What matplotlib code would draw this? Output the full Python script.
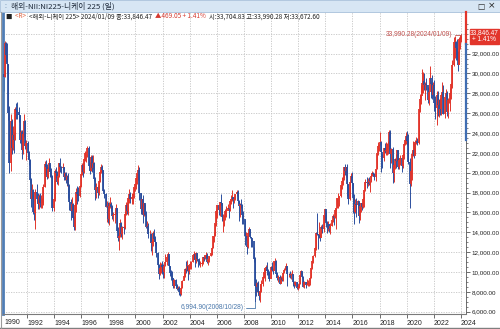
import numpy as np
import pandas as pd
import matplotlib
matplotlib.use("Agg")
import matplotlib.pyplot as plt
from matplotlib.patches import Rectangle
from matplotlib.lines import Line2D

# ---------------- data (monthly OHLC, in units of 100 yen) ----------------
start_month = "1990-04"
first_open = 299.8
close_h = [
    296, 331, 319, 310, 260, 210, 252, 225, 238,                 # 1990 Apr-Dec
    233, 264, 263, 261, 258, 233, 241, 223, 239, 252, 227, 230,  # 1991
    220, 213, 193, 174, 183, 160, 159, 181, 174, 168, 177, 169,  # 1992
    170, 170, 186, 209, 206, 196, 204, 210, 201, 197, 164, 174,  # 1993
    202, 200, 191, 197, 210, 206, 205, 206, 196, 200, 193, 197,  # 1994
    187, 171, 161, 168, 154, 145, 167, 181, 179, 177, 187, 199,  # 1995
    208, 201, 214, 220, 220, 225, 207, 202, 216, 205, 210, 194,  # 1996
    183, 186, 180, 192, 201, 206, 203, 182, 179, 165, 166, 153,  # 1997
    166, 168, 165, 156, 157, 158, 164, 141, 134, 136, 149, 138,  # 1998
    145, 144, 158, 167, 161, 175, 179, 174, 176, 179, 186, 189,  # 1999
    195, 200, 203, 180, 163, 174, 157, 169, 157, 145, 146, 138,  # 2000
    138, 129, 130, 139, 133, 130, 119, 107, 98, 104, 107, 105,   # 2001
    100, 106, 110, 115, 118, 106, 99, 96, 94, 86, 92, 86,        # 2002
    83, 84, 80, 78, 84, 91, 96, 103, 102, 106, 101, 107,         # 2003
    108, 110, 117, 118, 112, 119, 113, 111, 108, 108, 109, 115,  # 2004
    114, 117, 117, 110, 113, 116, 119, 124, 136, 136, 149, 161,  # 2005
    167, 162, 171, 169, 155, 155, 155, 161, 161, 164, 163, 172,  # 2006
    174, 176, 173, 174, 179, 181, 172, 166, 168, 167, 157, 153,  # 2007
    136, 136, 125, 139, 143, 135, 134, 131, 113, 86, 85, 89,     # 2008
    80, 76, 81, 88, 95, 100, 104, 105, 101, 100, 93, 105,        # 2009
    102, 101, 111, 111, 98, 94, 95, 88, 94, 92, 99, 102,         # 2010
    102, 106, 98, 98, 97, 98, 98, 90, 87, 90, 84, 85,            # 2011
    88, 97, 101, 95, 85, 90, 87, 88, 89, 89, 94, 104,            # 2012
    111, 116, 124, 139, 138, 137, 137, 134, 145, 143, 157, 163,  # 2013
    149, 148, 148, 143, 146, 152, 156, 154, 162, 164, 175, 175,  # 2014
    177, 188, 192, 195, 206, 202, 206, 189, 174, 191, 197, 190,  # 2015
    175, 160, 168, 167, 172, 156, 166, 169, 165, 174, 183, 191,  # 2016
    190, 191, 189, 192, 197, 200, 199, 196, 204, 220, 227, 228,  # 2017
    231, 221, 215, 225, 222, 223, 226, 229, 241, 219, 224, 200,  # 2018
    208, 214, 212, 223, 206, 213, 215, 207, 218, 229, 233, 237,  # 2019
    232, 211, 189, 202, 219, 223, 217, 231, 232, 230, 264, 274,  # 2020
    277, 290, 292, 288, 289, 288, 273, 281, 295, 289, 278, 288,  # 2021
    270, 265, 278, 268, 273, 264, 278, 281, 259, 276, 280, 261,  # 2022
    273, 274, 280, 289, 309, 332, 332, 326, 319, 309, 335, 335,  # 2023
    338.5,                                                       # 2024 Jan
]
high_h = [
    303, 333, 332, 331, 310, 267, 259, 254, 247,
    241, 266, 270, 271, 266, 258, 243, 243, 241, 259, 253, 233,
    232, 222, 214, 195, 189, 184, 163, 184, 189, 180, 179, 180,
    178, 175, 189, 212, 213, 209, 206, 215, 209, 205, 198, 180,
    204, 206, 202, 197, 210, 215, 207, 210, 206, 201, 201, 198,
    200, 189, 174, 176, 170, 156, 170, 185, 187, 186, 188, 200,
    210, 211, 215, 222, 221, 227, 227, 211, 218, 218, 218, 211,
    196, 190, 188, 193, 203, 209, 208, 203, 184, 180, 172, 171,
    171, 176, 171, 167, 160, 163, 168, 164, 145, 140, 153, 150,
    146, 146, 161, 171, 170, 176, 184, 181, 180, 180, 186, 190,
    196, 200, 208, 206, 180, 174, 178, 169, 168, 161, 151, 149,
    142, 139, 132, 141, 143, 136, 130, 120, 108, 110, 109, 111,
    108, 107, 118, 117, 120, 117, 106, 102, 101, 94, 93, 93,
    88, 86, 86, 82, 85, 92, 100, 104, 111, 112, 107, 107,
    111, 111, 118, 121, 119, 120, 119, 112, 114, 111, 111, 115,
    116, 117, 120, 119, 113, 116, 119, 125, 136, 140, 149, 163,
    167, 166, 171, 179, 170, 158, 157, 163, 166, 168, 164, 173,
    178, 183, 176, 177, 179, 183, 183, 173, 169, 174, 168, 161,
    152, 140, 133, 140, 145, 143, 135, 133, 125, 115, 93, 90,
    91, 81, 88, 92, 96, 104, 104, 107, 110, 103, 101, 106,
    110, 104, 111, 114, 112, 100, 97, 97, 96, 95, 100, 104,
    105, 109, 106, 99, 101, 99, 102, 98, 91, 91, 90, 87,
    89, 97, 102, 100, 96, 91, 90, 93, 92, 90, 95, 104,
    112, 117, 125, 140, 159, 138, 150, 139, 147, 148, 157, 163,
    161, 151, 151, 148, 149, 152, 158, 155, 163, 164, 175, 180,
    177, 188, 196, 200, 206, 209, 206, 209, 189, 191, 200, 201,
    190, 179, 174, 175, 173, 171, 166, 170, 170, 176, 183, 194,
    196, 195, 196, 192, 200, 202, 201, 200, 204, 220, 231, 229,
    241, 232, 219, 225, 230, 231, 230, 232, 243, 243, 225, 226,
    209, 215, 219, 223, 223, 215, 218, 215, 220, 230, 235, 241,
    242, 239, 215, 203, 222, 232, 230, 233, 236, 235, 264, 279,
    288, 304, 301, 300, 291, 295, 286, 282, 307, 292, 298, 291,
    293, 277, 282, 282, 274, 275, 280, 291, 288, 276, 284, 282,
    275, 275, 285, 290, 314, 337, 337.5, 333, 335, 323, 337, 338,
    339.9,
]
low_h = [
    282, 296, 312, 300, 253, 200, 202, 219, 223,
    220, 233, 254, 254, 251, 230, 229, 214, 219, 236, 224, 213,
    214, 208, 190, 165, 175, 158, 152, 143, 171, 163, 163, 165,
    164, 164, 167, 186, 199, 194, 195, 202, 196, 195, 161, 161,
    172, 195, 189, 188, 196, 201, 200, 203, 193, 193, 190, 187,
    175, 162, 152, 155, 153, 142, 142, 160, 168, 172, 176, 186,
    198, 196, 200, 212, 211, 216, 203, 199, 202, 201, 204, 192,
    173, 175, 175, 178, 191, 200, 196, 182, 175, 165, 150, 149,
    147, 164, 161, 153, 151, 149, 158, 140, 131, 122, 135, 135,
    133, 138, 143, 157, 158, 157, 170, 169, 168, 168, 175, 182,
    184, 189, 193, 173, 158, 158, 149, 156, 157, 144, 141, 134,
    130, 121, 117, 126, 131, 126, 115, 105, 93, 97, 99, 98,
    94, 94, 106, 107, 112, 104, 96, 92, 90, 84, 84, 84,
    82, 82, 77, 76, 77, 84, 92, 95, 99, 101, 92, 98,
    103, 103, 110, 113, 105, 109, 111, 105, 107, 105, 106, 108,
    111, 113, 114, 109, 107, 110, 116, 117, 124, 130, 136, 146,
    154, 157, 156, 167, 151, 140, 146, 152, 155, 162, 154, 161,
    168, 172, 164, 169, 173, 177, 170, 151, 155, 164, 148, 148,
    127, 132, 118, 124, 137, 134, 125, 125, 110, 69.95, 76, 80,
    78, 71.6, 70.2, 80, 86, 94, 91, 102, 97, 97, 91, 94,
    101, 98, 102, 107, 95, 92, 90, 88, 89, 91, 91, 99,
    102, 103, 86, 95, 94, 93, 97, 86, 84, 86, 83, 82,
    84, 88, 97, 94, 85, 84, 84, 87, 86, 86, 87, 94,
    103, 109, 115, 122, 137, 123, 134, 131, 135, 139, 140, 151,
    145, 139, 141, 140, 138, 146, 150, 147, 154, 143, 164, 164,
    166, 176, 184, 188, 193, 198, 196, 177, 168, 173, 191, 184,
    159, 148, 159, 155, 164, 149, 152, 160, 162, 164, 165, 182,
    185, 187, 188, 181, 191, 197, 198, 193, 192, 204, 218, 222,
    228, 201, 205, 212, 220, 218, 218, 219, 223, 205, 210, 190,
    191, 204, 205, 212, 204, 204, 208, 201, 205, 214, 228, 229,
    228, 209, 164, 187, 193, 217, 215, 219, 229, 228, 229, 261,
    269, 280, 280, 283, 273, 283, 270, 268, 291, 275, 274, 276,
    262, 254, 248, 257, 256, 258, 258, 275, 259, 255, 275, 257,
    255, 270, 262, 274, 285, 307, 316, 314, 314, 302, 310, 325,
    331.9,
]
year_ticks = list(range(1992, 2025, 2))
price_ticks = list(range(6000, 32001, 2000))
title_text = "해외-NII:NI225-니케이 225 (일)"
max_label = "33,990.28(2024/01/09)"
min_label = "6,994.90(2008/10/28)"
last_price = "33,846.47"
last_change = "+ 1.41%"
info_parts = [
    ("■ ", "#222222"),
    ("<R> ", "#e0603c"),
    ("<해외-니케이 225> 2024/01/09 종:33,846.47 ", "#222222"),
    ("▲469.05 + 1.41% ", "#d53a30"),
    ("시:33,704.83 고:33,990.28 저:33,672.60", "#222222"),
]

# ---------------- derived arrays ----------------
close = np.array(close_h, float) * 100
high = np.array(high_h, float) * 100
low = np.array(low_h, float) * 100
opens = np.concatenate([[first_open * 100], close[:-1]])
dates = pd.date_range(start_month, periods=len(close), freq="MS")
xs = dates.year + (dates.month - 0.5) / 12.0

W, H = 500, 329
fig = plt.figure(figsize=(5, 3.29), dpi=100)
fig.patch.set_facecolor("white")

def fx(px):
    return px / W

def fy(py):
    return 1 - py / H

L, R, T, B = 3, 466, 12, 314
ax = fig.add_axes([fx(L), fy(B), fx(R) - fx(L), fy(T) - fy(B)])
ax.set_facecolor("white")

ppy = 13.56
x0 = 1992 + (L - 27) / ppy
x1 = 1992 + (R - 27) / ppy
ppu = (311.7 - 93.3) / 22000.0
y_top = 28000 + (93.3 - T) / ppu
y_bot = 6000 - (B - 311.7) / ppu
ax.set_xlim(x0, x1)
ax.set_ylim(y_bot, y_top)

# grid
for yv in range(6000, 34001, 2000):
    ax.axhline(yv, color="#c4c4c4", lw=0.6, ls=(0, (1.5, 1.5)), zorder=0)
for xv in year_ticks:
    ax.axvline(xv, color="#c4c4c4", lw=0.6, ls=(0, (1.5, 1.5)), zorder=0)

up = close >= opens
red = "#e2352b"
blue = "#2c4f9e"
cols = np.where(up, red, blue)
ax.vlines(xs, low, high, colors=cols, lw=0.7, zorder=2)
ax.vlines(xs, opens, close, colors=cols, lw=1.3, zorder=3)

# max / min annotations
imax = int(np.argmax(high))
imin = int(np.argmin(low))
lbl_font = ["Liberation Sans", "DejaVu Sans"]
ax.annotate(max_label, xy=(xs[imax], high[imax]), xytext=(-9, -1),
            textcoords="offset pixels", ha="right", va="center",
            fontsize=4.8, color="#c0504d", family=lbl_font,
            arrowprops=dict(arrowstyle="-", color="#c0504d", lw=0.6,
                            shrinkA=0, shrinkB=0,
                            connectionstyle="angle,angleA=0,angleB=90,rad=0"),
            zorder=5)
ax.annotate(min_label, xy=(xs[imin], low[imin]), xytext=(-11, -6),
            textcoords="offset pixels", ha="right", va="center",
            fontsize=4.8, color="#4a78ab", family=lbl_font,
            arrowprops=dict(arrowstyle="-", color="#4a78ab", lw=0.6,
                            shrinkA=0, shrinkB=0,
                            connectionstyle="angle,angleA=0,angleB=90,rad=0"),
            zorder=5)

# axes spines / ticks
ax.spines["top"].set_visible(False)
ax.spines["left"].set_color("#4f7db5")
ax.spines["left"].set_linewidth(2.0)
ax.spines["bottom"].set_color("#7a7a7a")
ax.spines["bottom"].set_linewidth(0.8)
ax.spines["right"].set_color("#555555")
ax.spines["right"].set_linewidth(0.6)

ax.set_xticks(year_ticks)
ax.set_xticklabels([str(y) for y in year_ticks], ha="left",
                   fontsize=5.0, family=lbl_font, color="#222222")
ax.tick_params(axis="x", length=3, width=0.6, color="#555555", pad=1.5)
ax.yaxis.tick_right()
ax.set_yticks(price_ticks)
ax.set_yticklabels([f"{v:,.2f}" for v in price_ticks], fontsize=4.5,
                   family=lbl_font, color="#222222")
ax.set_yticks(np.arange(6000, 35001, 500), minor=True)
ax.tick_params(axis="y", which="major", length=3, width=0.6, color="#555555", pad=1.2)
ax.tick_params(axis="y", which="minor", length=1.5, width=0.5, color="#555555")
ax.tick_params(axis="y", which="both", right=True, left=False)

fig.text(fx(4), fy(322.5), "1990", fontsize=5.0, family=lbl_font,
         color="#222222", ha="left", va="center")

# right axis colour bars
fig.add_artist(Line2D([fx(466.2), fx(466.2)], [fy(12), fy(44)], color=red, lw=1.6))
fig.add_artist(Line2D([fx(466.2), fx(466.2)], [fy(44), fy(140)], color="#3f6db2", lw=1.6))

# price box
fig.add_artist(Rectangle((fx(470), fy(43.5)), fx(499) - fx(470), fy(29) - fy(43.5),
                         transform=fig.transFigure, facecolor=red, edgecolor=red))
fig.text(fx(484.5), fy(32.8), last_price, fontsize=4.7, family=lbl_font,
         color="white", ha="center", va="center")
fig.text(fx(484.5), fy(39.8), last_change, fontsize=4.7, family=lbl_font,
         color="white", ha="center", va="center")

# title bar
fig.add_artist(Rectangle((0, fy(11.5)), 1, fy(0) - fy(11.5), transform=fig.transFigure,
                         facecolor="#d7e6f4", edgecolor="#a8c0da", lw=0.6))
kfont = ["Noto Sans CJK KR", "DejaVu Sans"]
fig.text(fx(4), fy(6), ":", fontsize=5, color="#6f8fb0", va="center", family=kfont)
fig.text(fx(11), fy(6), title_text, fontsize=5.6, color="#1e2a3a", va="center",
         family=kfont)
fig.text(fx(481), fy(6), "□", fontsize=5.5, color="#222222", va="center", ha="center",
         family=["DejaVu Sans"])
fig.text(fx(492), fy(6), "×", fontsize=6.5, color="#222222", va="center", ha="center",
         family=["DejaVu Sans"])

# info line laid out piece by piece
renderer = fig.canvas.get_renderer()
cur = 6.0
iy = fy(16.5)
for s, c in info_parts:
    t = fig.text(fx(cur), iy, s, fontsize=4.6, color=c, va="center", ha="left",
                 family=kfont)
    bb = t.get_window_extent(renderer=renderer)
    cur += bb.width + (1.5 if s.endswith(" ") else 0)

# frame lines
fig.add_artist(Line2D([0, 1], [fy(328), fy(328)], color="#7f7f7f", lw=1.0))
fig.add_artist(Line2D([fx(0.6), fx(0.6)], [fy(12), fy(328)], color="#9a9a9a", lw=0.8))

fig.savefig("out.png", dpi=100)
